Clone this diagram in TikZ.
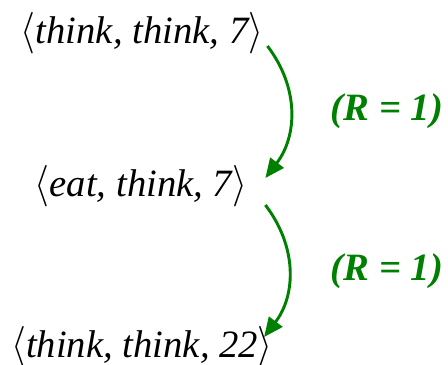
\documentclass[tikz,border=0pt]{standalone}
\usepackage{fontspec}
\setmainfont{Liberation Serif}
\usetikzlibrary{arrows.meta}
\definecolor{rategreen}{HTML}{008000}
\newcommand{\tuple}[1]{\scalebox{1.15}[1.25]{$\langle$}#1\scalebox{1.15}[1.25]{$\rangle$}}

\begin{document}
\begin{tikzpicture}[x=.75pt,y=-.75pt,font=\fontsize{29}{32}\selectfont,
 state/.style={anchor=base,inner sep=0pt,font=\itshape\fontsize{29}{32}\selectfont},
 rate/.style={anchor=base,inner sep=0pt,text=rategreen,font=\bfseries\itshape\fontsize{29}{32}\selectfont},
 move/.style={-{Triangle[length=14.5pt,width=12.5pt]},draw=rategreen,line width=2.2pt}]
\path[use as bounding box] (0,0) rectangle (448,364);
% States of the two philosophers and the clock.
\node[state] (s1) at (142,43) {\tuple{think, think, 7}};
\node[state] (s2) at (141,196) {\tuple{eat, think, 7}};
\node[state] (s3) at (142,357) {\tuple{think, think, 22}};
\node[rate] (r1) at (387,120) {(R = 1)};
\node[rate] (r2) at (387,280) {(R = 1)};
% Transitions bulge to the right.
\draw[move] ([shift={(4,3)}]s1.base east) .. controls +(32,42) and +(32,-42) .. ([shift={(18,-18)}]s2.base east);
\draw[move] ([shift={(18,9)}]s2.base east) .. controls +(32,42) and +(32,-42) .. ([shift={(-9,-20)}]s3.base east);
\end{tikzpicture}
\end{document}
